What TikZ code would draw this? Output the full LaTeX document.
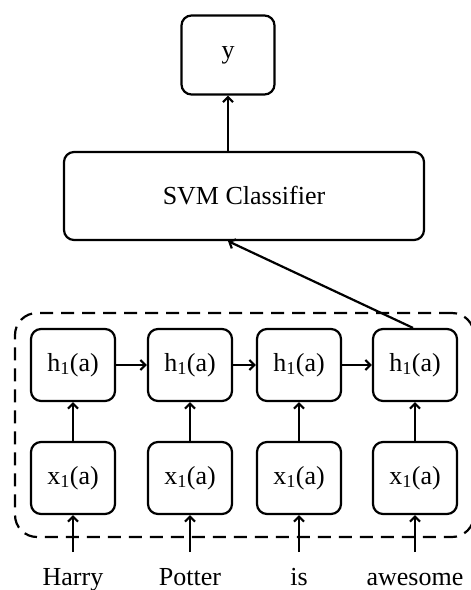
\documentclass[tikz,border=0pt]{standalone}
\usepackage{fontspec}
\setmainfont{Liberation Serif}
\usetikzlibrary{arrows.meta,positioning}

\begin{document}
\begin{tikzpicture}[x=1pt,y=-1pt,line width=2.2pt,->,>={Straight Barb[length=5pt,width=10pt]},
		font=\rmfamily\fontsize{26}{30}\selectfont]
		\tikzstyle{box}=[draw,-,rounded corners=10pt,inner sep=0pt]
		\tikzstyle{cell}=[box,minimum width=84pt,minimum height=72pt]
		\tikzstyle{word}=[anchor=base,inner sep=0pt,text height=17pt,outer ysep=16pt]
		\tikzstyle{frame}=[draw,-,dash pattern=on 13pt off 8pt,rounded corners=22pt,
			minimum width=459pt,minimum height=224pt,inner sep=0pt]
		
		\useasboundingbox (0,0) rectangle (471,590);
		
		% Dashed frame round the recurrent part
		\node[frame] (rnn) at (244.5,425) {};
		
		% Draw the hidden and input cells with the words below
		\foreach \name / \x / \w in {1/73/Harry,2/190/Potter,3/299/is,4/415/awesome}{
			\node[cell] (H-\name) at (\x,365) {h\textsubscript{1}(a)};
			\node[cell] (X-\name) at (\x,478) {x\textsubscript{1}(a)};
			\node[word] (W-\name) at (\x,585) {\w};
		}
		
		% Classifier and output
		\node[box,minimum width=360pt,minimum height=88pt] (svm) at (244,196) {SVM Classifier};
		\node[box,minimum width=93pt,minimum height=79pt] (y) at (228,55) {y};
		
		% Connect words to inputs and inputs to hidden cells
		\foreach \name in {1,...,4}{
			\draw (W-\name) -- (X-\name);
			\draw (X-\name) -- (H-\name);
		}
		
		% Connect the hidden cells in a chain
		\foreach \source / \dest in {1/2,2/3,3/4}
		\draw (H-\source) -- (H-\dest);
		
		% Last hidden state into the classifier, classifier to output
		\draw ([xshift=-2pt]H-4.north) -- ([xshift=-16pt]svm.south);
		\draw (y.south |- svm.north) -- (y.south);
\end{tikzpicture}
\end{document}
